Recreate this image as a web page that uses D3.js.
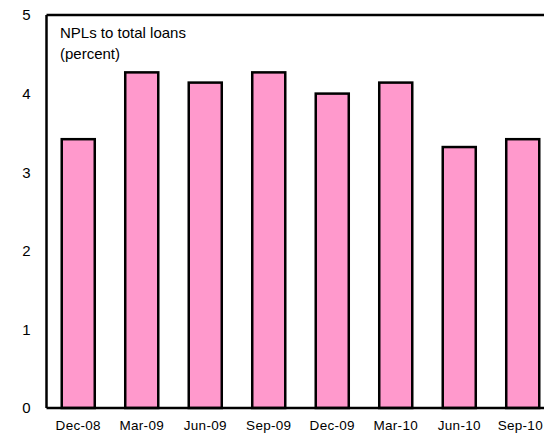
<!DOCTYPE html>
<html>
<head>
<meta charset="utf-8">
<script src="https://cdn.jsdelivr.net/npm/d3@7"></script>
<style>
  html, body { margin: 0; padding: 0; background: #fff; }
  svg { display: block; font-family: "Liberation Sans", Arial, sans-serif; }
</style>
</head>
<body>
<svg id="chart" width="544" height="437"></svg>
<script>
// Quarterly ratio of non-performing loans to total loans
const quarters = ["Dec-08", "Mar-09", "Jun-09", "Sep-09", "Dec-09", "Mar-10", "Jun-10", "Sep-10"];
const nplRatio = [3.42, 4.27, 4.14, 4.27, 4.00, 4.14, 3.32, 3.42];
const yTicks = [0, 1, 2, 3, 4, 5];
const titleLines = ["NPLs to total loans", "(percent)"];

const svg = d3.select("#chart");
const width = 544, height = 437;
const margin = { left: 46.5, top: 15, bottom: 29 };
const plotW = 508;            // extends slightly beyond the visible canvas
const plotBottom = height - margin.bottom;

const x = d3.scaleBand()
  .domain(quarters)
  .range([margin.left, margin.left + plotW])
  .paddingInner(0.48)
  .paddingOuter(0.24);

const y = d3.scaleLinear()
  .domain([0, 5])
  .range([plotBottom, margin.top]);

// bars
svg.append("g")
  .selectAll("rect")
  .data(quarters)
  .join("rect")
  .attr("x", d => x(d))
  .attr("width", x.bandwidth())
  .attr("y", (d, i) => y(nplRatio[i]))
  .attr("height", (d, i) => y(0) - y(nplRatio[i]))
  .attr("fill", "#ff99cc")
  .attr("stroke", "#000")
  .attr("stroke-width", 2.5);

// frame: left axis, top border, baseline
const frame = svg.append("g").attr("stroke", "#000").attr("stroke-width", 2.5).attr("fill", "none");
frame.append("line").attr("x1", margin.left).attr("x2", margin.left).attr("y1", y(5)).attr("y2", y(0));
frame.append("line").attr("x1", margin.left).attr("x2", margin.left + plotW).attr("y1", y(5)).attr("y2", y(5));
frame.append("line").attr("x1", margin.left).attr("x2", margin.left + plotW).attr("y1", y(0)).attr("y2", y(0));

// y axis labels
const yAxis = d3.axisLeft(y).tickValues(yTicks).tickSize(0).tickPadding(16).tickFormat(d3.format("d"));
const gy = svg.append("g").attr("transform", `translate(${margin.left},0)`).call(yAxis);
gy.select(".domain").remove();
gy.selectAll("text").attr("font-size", 15).attr("fill", "#000")
  .attr("font-family", "Liberation Sans, Arial, sans-serif");

// x axis labels, kept inside the canvas
const xAxis = d3.axisBottom(x).tickSize(0).tickPadding(12);
const gx = svg.append("g").attr("transform", `translate(0,${plotBottom})`).call(xAxis);
gx.select(".domain").remove();
gx.selectAll(".tick").each(function (d) {
  const t = d3.select(this).select("text")
    .attr("font-size", 13.5).attr("fill", "#000")
    .attr("letter-spacing", "0.3px")
    .attr("font-family", "Liberation Sans, Arial, sans-serif");
  const cx = x(d) + x.bandwidth() / 2;
  const w = t.node().getComputedTextLength();
  const overflow = cx + w / 2 - (width - 1);
  if (overflow > 0) t.attr("dx", -overflow);
});

// panel title
svg.append("g")
  .selectAll("text")
  .data(titleLines)
  .join("text")
  .attr("x", 60)
  .attr("y", (d, i) => 38 + i * 21)
  .attr("font-size", 15)
  .attr("fill", "#000")
  .text(d => d);
</script>
</body>
</html>
